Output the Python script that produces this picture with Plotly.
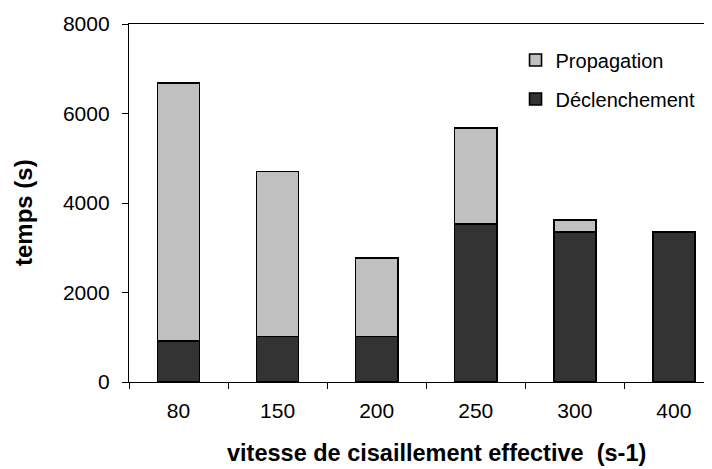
import plotly.graph_objects as go

categories = ["80", "150", "200", "250", "300", "400"]
declenchement = [920, 1020, 1020, 3530, 3350, 3350]
propagation = [5760, 3680, 1750, 2150, 270, 0]
y_ticks = [0, 2000, 4000, 6000, 8000]

FONT = "Liberation Sans, Arial, sans-serif"

fig = go.Figure()
fig.add_trace(go.Bar(
    x=categories, y=declenchement, name="Déclenchement",
    marker=dict(color="#333333", line=dict(color="black", width=1.6)),
    legendgroup="d", legendrank=2,
))
fig.add_trace(go.Bar(
    x=categories, y=propagation, name="Propagation",
    marker=dict(color="#C0C0C0", line=dict(color="black", width=1.6)),
    legendgroup="p", legendrank=1,
))

fig.update_layout(
    width=704, height=461,
    margin=dict(l=121, r=0, t=16, b=87),
    barmode="stack", bargap=0.575,
    plot_bgcolor="white", paper_bgcolor="white",
    font=dict(family=FONT, size=21, color="black"),
    showlegend=True,
    legend=dict(
        x=0.663, y=0.954, xanchor="left", yanchor="top",
        traceorder="grouped", tracegroupgap=10,
        font=dict(size=20), bgcolor="rgba(0,0,0,0)",
    ),
    xaxis=dict(
        type="category", range=[-0.5, 5.385],
        showline=True, linecolor="black", linewidth=1.3, mirror=True,
        ticks="outside", ticklen=6, tickcolor="black", tickwidth=1.3,
        tickson="boundaries", showgrid=False, zeroline=False,
        ticklabelstandoff=10,
    ),
    yaxis=dict(
        range=[0, 8000], tickvals=y_ticks,
        showline=True, linecolor="black", linewidth=1.3,
        ticks="outside", ticklen=6, tickcolor="black", tickwidth=1.3,
        showgrid=False, zeroline=False, ticklabelstandoff=8,
    ),
    annotations=[
        dict(text="<b>vitesse de cisaillement effective  (s-1)</b>",
             xref="paper", yref="paper", x=0.5274, y=-0.1983,
             xanchor="center", yanchor="middle", showarrow=False,
             font=dict(size=23.5)),
        dict(text="<b>temps (s)</b>",
             xref="paper", yref="paper", x=-0.1818, y=0.472,
             xanchor="center", yanchor="middle", showarrow=False,
             textangle=-90, font=dict(size=24)),
    ],
)

fig.write_html("out.html")
